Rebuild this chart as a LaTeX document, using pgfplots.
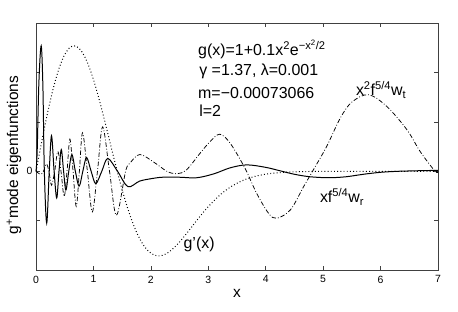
\documentclass[border=0pt]{standalone}
\usepackage{pgfplots}
\pgfplotsset{compat=1.18}
\usepackage{fontspec}
\setmainfont{Liberation Sans}
\begin{document}
\begin{tikzpicture}
\useasboundingbox (-36bp,-41bp) rectangle (421.7bp,270bp);
\begin{axis}[at={(0,0)}, anchor=south west, scale only axis,
  width=401.7bp, height=247bp,
  xmin=0, xmax=7, ymin=-2, ymax=3,
  xtick={0,1,2,3,4,5,6,7}, ytick={-1,0,1,2}, yticklabels={,0,,},
  tick align=inside, major tick length=4bp,
  axis line style={black!75, line width=0.6pt},
  every tick/.style={black!75, line width=0.5pt},
  ticklabel style={font=\fontsize{10.5}{12}\selectfont},
  xticklabel style={yshift=-2bp},
  /pgf/number format/assume math mode=true,
  xlabel={x}, ylabel={g\textsuperscript{+}mode eigenfunctions},
  label style={font=\fontsize{15.5}{18}\selectfont},
  xlabel style={at={(axis description cs:0.5,-0.095)}, anchor=center},
  ylabel style={at={(axis description cs:-0.055,0.466)}, anchor=center},
  clip=false]
% dotted g'(x)
\addplot[black, line width=1pt, dash pattern=on 0.9pt off 2.3pt, smooth] coordinates {
(0,0)(0.1,0.606)(0.2,1.176)(0.3,1.676)(0.4,2.079)(0.5,2.363)(0.6,2.515)(0.7,2.532)
(0.8,2.417)(0.9,2.186)(1.0,1.856)(1.1,1.452)(1.2,1.001)(1.3,0.530)(1.4,0.064)
(1.5,-0.373)(1.6,-0.762)(1.7,-1.091)(1.8,-1.352)(1.9,-1.540)(2.0,-1.656)(2.1,-1.708)
(2.2,-1.700)(2.3,-1.644)(2.4,-1.550)(2.5,-1.429)(2.6,-1.290)(2.7,-1.142)(2.8,-0.993)
(2.9,-0.849)(3.0,-0.714)(3.2,-0.482)(3.4,-0.307)(3.6,-0.185)(3.8,-0.106)(4.0,-0.058)
(4.2,-0.030)(4.4,-0.015)(4.6,-0.007)(4.8,-0.003)(5.0,-0.001)(5.5,0)(6.0,0)(6.5,0)(7,0)};
% dash-dot x^2 f^{5/4} w_t
\addplot[black, line width=0.75pt, dash pattern=on 4.5pt off 2pt on 0.8pt off 2pt, smooth, tension=0.55] coordinates {
(0,0)(0.08,-0.06)(0.13,0)(0.18,0.15)(0.225,0)(0.27,-0.28)(0.325,0)(0.38,0.40)(0.435,0)
(0.49,-0.51)(0.54,0)(0.59,0.65)(0.645,0)(0.70,-0.71)(0.755,0)(0.81,0.78)(0.895,0)
(0.98,-0.82)(1.07,0)(1.16,0.90)(1.28,0)(1.40,-0.89)(1.56,0)(1.64,0.17)(1.81,0.34)
(2.07,0.17)(2.28,0)(2.45,-0.05)(2.62,0.03)(2.86,0.37)(3.03,0.6)(3.2,0.75)(3.38,0.57)
(3.64,0.06)(3.84,-0.44)(4.05,-0.85)(4.19,-0.95)(4.43,-0.78)(4.66,-0.31)(4.83,0.03)
(5.06,0.5)(5.3,1.08)(5.5,1.40)(5.79,1.55)(6.11,1.31)(6.46,0.84)(6.69,0.40)(6.95,0)(7,0)};
% solid x f^{5/4} w_r
\addplot[black, line width=1pt, smooth, tension=0.55] coordinates {
(0,0)(0.02,0.4)(0.05,1.8)(0.09,2.54)(0.12,1.7)(0.145,0)(0.186,-1.05)(0.23,0)(0.27,0.72)
(0.315,0)(0.36,-0.54)(0.40,0)(0.44,0.44)(0.48,0)(0.52,-0.38)(0.57,0)(0.625,0.34)
(0.685,0)(0.75,-0.30)(0.815,0)(0.88,0.28)(0.96,0)(1.04,-0.25)(1.145,0)(1.25,0.26)
(1.42,0)(1.6,-0.31)(1.8,-0.2)(2.0,-0.15)(2.2,-0.12)(2.5,-0.12)(2.8,-0.13)(3.1,-0.05)
(3.38,0.07)(3.67,0.13)(4.0,0.08)(4.25,0.01)(4.5,-0.06)(4.77,-0.11)(5.1,-0.13)
(5.4,-0.11)(5.7,-0.06)(6.0,-0.02)(6.3,0)(6.6,0.01)(7,0.02)};
\begin{scope}[every node/.style={font=\fontsize{16}{19}\selectfont, inner sep=0pt}]
\node[anchor=west] at (axis cs:2.82,2.46) {g(x)=1+0.1x\textsuperscript{2}e\textsuperscript{−x\textsuperscript{2}/2}};
\node[anchor=west] at (axis cs:2.84,2.02) {γ =1.37, λ=0.001};
\node[anchor=west] at (axis cs:2.82,1.59) {m=−0.00073066};
\node[anchor=west] at (axis cs:2.84,1.23) {l=2};
\node at (axis cs:6.01,1.65) {x\textsuperscript{2}f\textsuperscript{5/4}w\textsubscript{t}};
\node at (axis cs:5.33,-0.52) {xf\textsuperscript{5/4}w\textsubscript{r}};
\node at (axis cs:2.84,-1.47) {g'(x)};
\end{scope}
\end{axis}
\end{tikzpicture}
\end{document}
